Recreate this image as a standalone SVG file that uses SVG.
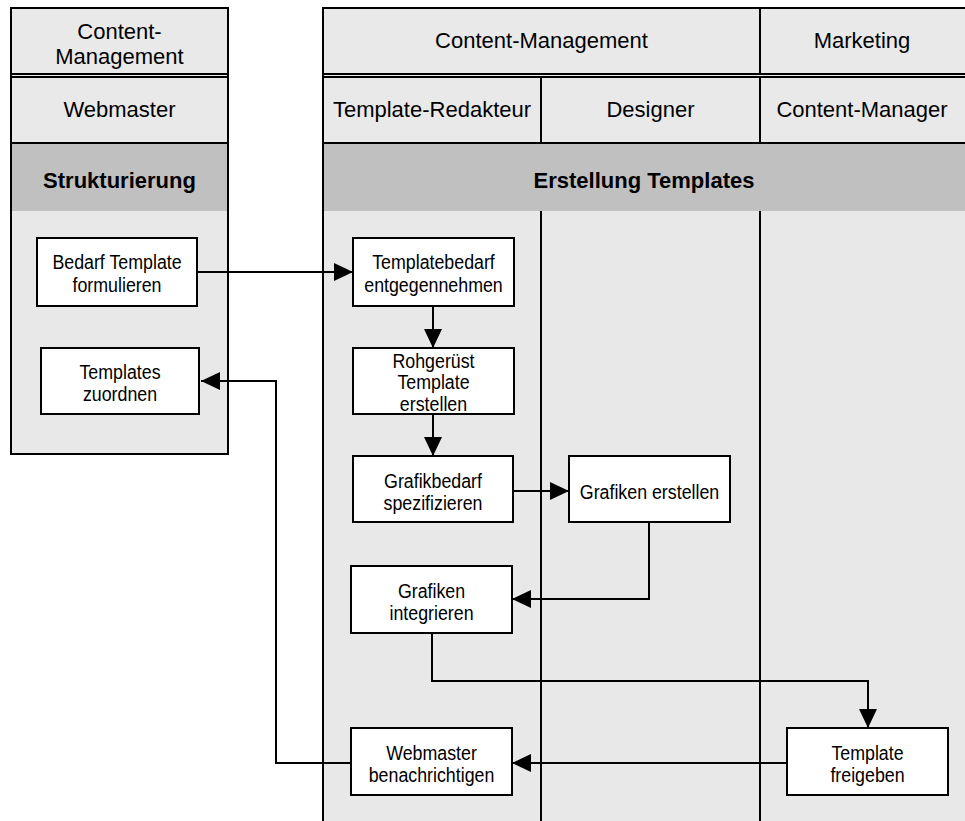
<svg xmlns="http://www.w3.org/2000/svg" width="965" height="821" viewBox="0 0 965 821">
<defs>
<marker id="ah" markerUnits="userSpaceOnUse" markerWidth="19" markerHeight="18" refX="19" refY="9" orient="auto">
<path d="M0,0 L19,9 L0,18 Z" fill="#000"/>
</marker>
<style>
.pool{fill:#e8e8e8;stroke:#000;stroke-width:2}
.hdr{fill:#e9e9e9;stroke:#000;stroke-width:2}
.band{fill:#c0c0c0;stroke:none}
.lane{stroke:#000;stroke-width:2;fill:none}
.ht{font-family:"Liberation Sans",Arial,sans-serif;font-size:22px;fill:#000;text-anchor:middle}
.hb{font-family:"Liberation Sans",Arial,sans-serif;font-size:22px;font-weight:bold;fill:#000;text-anchor:middle}
.box{fill:#fff;stroke:#000;stroke-width:2}
.nt{font-family:"Liberation Sans",Arial,sans-serif;font-size:20px;fill:#000;text-anchor:middle}
.conn{fill:none;stroke:#000;stroke-width:2;marker-end:url(#ah)}
</style>
</defs>
<rect width="965" height="821" fill="#fff"/>

<g id="pool-left">
<rect class="pool" x="11" y="8" width="217" height="446"/>
<rect class="hdr" x="11" y="8" width="217" height="66"/>
<rect class="hdr" x="11" y="77" width="217" height="66"/>
<rect class="band" x="12" y="144" width="215" height="67"/>
<text class="ht" x="119.5" y="39">Content-</text>
<text class="ht" x="119.5" y="64">Management</text>
<text class="ht" x="119.5" y="117">Webmaster</text>
<text class="hb" x="119.5" y="188">Strukturierung</text>
</g>

<g id="pool-right">
<rect x="323" y="8" width="643" height="814" fill="#e8e8e8"/>
<rect class="hdr" x="323" y="8" width="437" height="66"/>
<rect class="hdr" x="760" y="8" width="206" height="66"/>
<rect class="hdr" x="323" y="77" width="218" height="66"/>
<rect class="hdr" x="541" y="77" width="219" height="66"/>
<rect class="hdr" x="760" y="77" width="206" height="66"/>
<rect class="band" x="324" y="144" width="642" height="67"/>
<path class="lane" d="M323,8 V821 M541,211 V821 M760,211 V821"/>
<text class="ht" x="541.5" y="48">Content-Management</text>
<text class="ht" x="862" y="48">Marketing</text>
<text class="ht" x="432" y="117">Template-Redakteur</text>
<text class="ht" x="650.5" y="117">Designer</text>
<text class="ht" x="862" y="117">Content-Manager</text>
<text class="hb" x="644" y="188">Erstellung Templates</text>
</g>

<g id="connectors">
<path class="conn" d="M197,272 H353"/>
<path class="conn" d="M433,306 V348"/>
<path class="conn" d="M433,414 V456"/>
<path class="conn" d="M513,491 H569"/>
<path class="conn" d="M649,522 V599 H512"/>
<path class="conn" d="M432,633 V681 H868 V728"/>
<path class="conn" d="M787,763 H512"/>
<path class="conn" d="M351,763 H276 V381 H201"/>
</g>

<g id="n-bedarf">
<rect class="box" x="37" y="238" width="160" height="68"/>
<g transform="translate(117 0) scale(0.89 1)"><text class="nt" x="0" y="269">Bedarf Template</text><text class="nt" x="0" y="292">formulieren</text></g>
</g>
<g id="n-zuordnen">
<rect class="box" x="41" y="348" width="158" height="66"/>
<g transform="translate(120 0) scale(0.89 1)"><text class="nt" x="0" y="379">Templates</text><text class="nt" x="0" y="401">zuordnen</text></g>
</g>
<g id="n-entgegen">
<rect class="box" x="353" y="238" width="161" height="68"/>
<g transform="translate(433.5 0) scale(0.89 1)"><text class="nt" x="0" y="269">Templatebedarf</text><text class="nt" x="0" y="292">entgegennehmen</text></g>
</g>
<g id="n-rohgeruest">
<rect class="box" x="353" y="348" width="161" height="66"/>
<g transform="translate(433.5 0) scale(0.89 1)"><text class="nt" x="0" y="368">Rohgerüst</text><text class="nt" x="0" y="389">Template</text><text class="nt" x="0" y="411">erstellen</text></g>
</g>
<g id="n-grafikbedarf">
<rect class="box" x="353" y="456" width="160" height="66"/>
<g transform="translate(433 0) scale(0.89 1)"><text class="nt" x="0" y="488">Grafikbedarf</text><text class="nt" x="0" y="510">spezifizieren</text></g>
</g>
<g id="n-grafiken-erstellen">
<rect class="box" x="569" y="456" width="161" height="66"/>
<g transform="translate(649.5 0) scale(0.89 1)"><text class="nt" x="0" y="499">Grafiken erstellen</text></g>
</g>
<g id="n-integrieren">
<rect class="box" x="351" y="566" width="161" height="67"/>
<g transform="translate(431.5 0) scale(0.89 1)"><text class="nt" x="0" y="598">Grafiken</text><text class="nt" x="0" y="620">integrieren</text></g>
</g>
<g id="n-benachrichtigen">
<rect class="box" x="351" y="728" width="161" height="67"/>
<g transform="translate(431.5 0) scale(0.89 1)"><text class="nt" x="0" y="760">Webmaster</text><text class="nt" x="0" y="782">benachrichtigen</text></g>
</g>
<g id="n-freigeben">
<rect class="box" x="787" y="728" width="161" height="67"/>
<g transform="translate(867.5 0) scale(0.89 1)"><text class="nt" x="0" y="760">Template</text><text class="nt" x="0" y="782">freigeben</text></g>
</g>
</svg>
